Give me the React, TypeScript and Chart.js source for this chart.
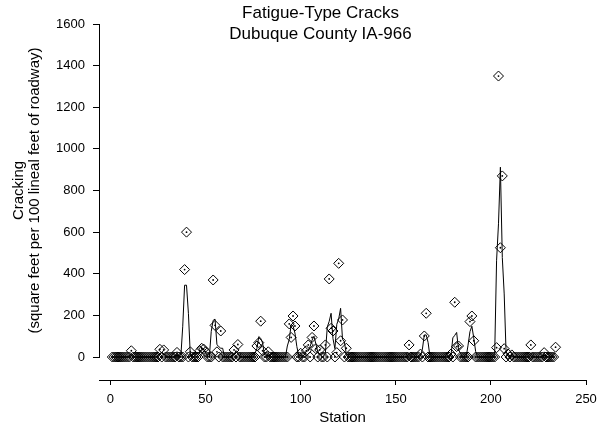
import React, { useEffect, useRef } from "react";
import { Chart, registerables } from "chart.js";

Chart.register(...registerables);

const FONT = "'Liberation Sans', Arial, Helvetica, sans-serif";

const TITLE_LINES = ["Fatigue-Type Cracks", "Dubuque County IA-966"];
const X_TITLE = "Station";
const Y_TITLE_LINES = ["Cracking", "(square feet per 100 lineal feet of roadway)"];

const X_TICKS = [0, 50, 100, 150, 200, 250];
const Y_TICKS = [0, 200, 400, 600, 800, 1000, 1200, 1400, 1600];
const X_MIN = -6;
// y value at which the detached x axis line sits (below the 0 baseline)
const X_AXIS_LINE_AT = -115;

// Stations measured: every station from FIRST_STATION to LAST_STATION.
const FIRST_STATION = 1;
const LAST_STATION = 234;

// Stations with non-zero cracking (all other stations read as 0).
const CRACK_STATIONS = [
  11, 26, 28, 35, 39, 40, 42, 47, 48, 49, 50, 54, 55, 56, 58, 65, 67, 77, 78, 79, 80, 83,
  94, 95, 96, 97, 100, 103, 104, 106, 107, 108, 110, 113, 115, 116, 117, 119, 120, 121, 122, 124,
  157, 163, 165, 166, 179, 181, 182, 183, 189, 190, 191, 203, 204, 205, 206, 207, 209, 211,
  221, 228, 234,
];
const CRACK_VALUES = [
  30, 37, 34, 22, 420, 600, 25, 30, 42, 38, 25, 370, 152, 25, 125, 34, 60, 53, 69, 172, 30, 25,
  159, 94, 197, 149, 18, 30, 58, 94, 149, 40, 34, 58, 375, 138, 125, 21, 450, 78, 178, 42,
  58, 14, 101, 210, 14, 263, 50, 53, 170, 197, 78, 45, 1350, 525, 870, 40, 15, 10,
  58, 21, 47,
];

// Moving-average trend line: stations where it rises above 0.
const TREND_STATIONS = [
  10, 11, 12, 25, 26, 27, 28, 29, 34, 35, 36, 38, 39, 40, 41, 42, 43, 46, 47, 48, 49, 50, 51,
  53, 54, 55, 56, 57, 58, 59, 64, 65, 66, 67, 68, 76, 77, 78, 79, 80, 81, 82, 83, 84,
  93, 94, 95, 96, 97, 98, 99, 100, 101, 102, 103, 104, 105, 106, 107, 108, 109, 110, 111,
  112, 113, 114, 115, 116, 117, 118, 119, 120, 121, 122, 123, 124, 125,
  156, 157, 158, 162, 163, 164, 165, 166, 167, 178, 179, 180, 181, 182, 183, 184,
  188, 189, 190, 191, 192, 202, 203, 204, 205, 206, 207, 208, 209, 210, 211, 212,
  220, 221, 222, 227, 228, 229, 233, 234,
];
const TREND_VALUES = [
  10, 10, 10, 12, 12, 24, 11, 11, 7, 7, 7, 145, 345, 345, 210, 8, 8, 10, 24, 37, 35, 21, 8,
  123, 176, 182, 59, 50, 42, 42, 11, 11, 31, 20, 20, 18, 41, 98, 90, 67, 10, 8, 8, 8,
  53, 84, 155, 150, 115, 50, 6, 6, 6, 10, 29, 29, 51, 81, 100, 63, 25, 11, 11,
  19, 19, 144, 171, 210, 88, 40, 157, 183, 234, 85, 73, 14, 14,
  19, 19, 19, 5, 5, 38, 106, 106, 70, 5, 5, 92, 104, 118, 34, 18,
  57, 122, 148, 92, 26, 15, 465, 640, 912, 478, 303, 18, 5, 8, 3, 3,
  19, 19, 19, 7, 7, 7, 16, 16,
];

function seriesFrom(stations: number[], values: number[]) {
  const lookup = new Map<number, number>();
  stations.forEach((s, i) => lookup.set(s, values[i]));
  const pts: { x: number; y: number }[] = [];
  for (let s = FIRST_STATION; s <= LAST_STATION; s++) {
    pts.push({ x: s, y: lookup.get(s) ?? 0 });
  }
  return pts;
}

export default function App() {
  const ref = useRef<HTMLCanvasElement>(null);

  useEffect(() => {
    document.body.style.margin = "0";
    const canvas = ref.current;
    if (!canvas) return;
    const points = seriesFrom(CRACK_STATIONS, CRACK_VALUES);
    const trend = seriesFrom(TREND_STATIONS, TREND_VALUES);
    const setXTicks = (s: any) => {
      s.ticks = X_TICKS.map((v) => ({ value: v }));
    };

    const chart = new Chart(canvas, {
      type: "scatter",
      data: {
        datasets: [
          {
            label: "trend",
            data: trend,
            xAxisID: "x",
            yAxisID: "y",
            showLine: true,
            borderColor: "#000",
            borderWidth: 1,
            pointRadius: 0,
            tension: 0,
            clip: false as any,
          },
          {
            label: "cracking",
            data: points,
            xAxisID: "x",
            yAxisID: "y",
            showLine: false,
            pointStyle: "rectRot",
            pointRadius: 5,
            borderColor: "#000",
            borderWidth: 1,
            backgroundColor: "rgba(0,0,0,0)",
            clip: false as any,
          },
          {
            label: "centers",
            data: points,
            xAxisID: "x",
            yAxisID: "y",
            showLine: false,
            pointStyle: "circle",
            pointRadius: 0.9,
            borderWidth: 0,
            backgroundColor: "#000",
            clip: false as any,
          },
        ],
      },
      options: {
        responsive: false,
        animation: false,
        devicePixelRatio: 1,
        layout: { padding: { left: 55, right: 15, top: 0, bottom: 0 } },
        plugins: {
          legend: { display: false },
          tooltip: { enabled: false },
          title: {
            display: true,
            text: TITLE_LINES,
            color: "#000",
            font: { family: FONT, size: 17, weight: "normal", lineHeight: "21px" },
            padding: { top: 3, bottom: -21 },
          },
        },
        scales: {
          x: {
            type: "linear",
            min: X_MIN,
            max: X_TICKS[X_TICKS.length - 1],
            afterBuildTicks: setXTicks,
            afterFit: (s: any) => {
              s.height = 81;
            },
            border: { display: false },
            grid: {
              display: true,
              drawOnChartArea: false,
              drawTicks: true,
              tickLength: 35,
              tickColor: "rgba(0,0,0,0)",
            },
            ticks: {
              color: "#000",
              font: { family: FONT, size: 13 },
              padding: 0,
              maxRotation: 0,
              autoSkip: false,
              callback: (v: any) => String(v),
            },
            title: {
              display: true,
              text: X_TITLE,
              color: "#000",
              font: { family: FONT, size: 15, lineHeight: "16px" },
              padding: { top: 0, bottom: 12 },
            },
          },
          xLine: {
            type: "linear",
            axis: "x",
            position: { y: X_AXIS_LINE_AT },
            min: X_MIN,
            max: X_TICKS[X_TICKS.length - 1],
            afterBuildTicks: setXTicks,
            border: { display: true, color: "#000", width: 1 },
            grid: {
              display: true,
              drawOnChartArea: false,
              drawTicks: true,
              tickLength: 4,
              tickColor: "#000",
              tickWidth: 1,
              color: "#000",
            },
            ticks: { display: false },
            title: { display: false },
          },
          y: {
            type: "linear",
            min: Y_TICKS[0],
            max: Y_TICKS[Y_TICKS.length - 1],
            afterBuildTicks: (s: any) => {
              s.ticks = Y_TICKS.map((v) => ({ value: v }));
            },
            afterFit: (s: any) => {
              s.width = 44;
            },
            border: { display: true, color: "#000", width: 1 },
            grid: {
              display: true,
              drawOnChartArea: false,
              drawTicks: true,
              tickLength: 6,
              tickColor: "#000",
              tickWidth: 1,
            },
            ticks: {
              color: "#000",
              font: { family: FONT, size: 13 },
              padding: 8,
              autoSkip: false,
              callback: (v: any) => String(v),
            },
            title: {
              display: true,
              text: Y_TITLE_LINES,
              color: "#000",
              font: { family: FONT, size: 15, lineHeight: "16px" },
              padding: { top: -44, bottom: 0 },
            },
          },
        },
      } as any,
    });
    return () => chart.destroy();
  }, []);

  return (
    <div style={{ width: 601, height: 438, background: "#fff" }}>
      <canvas ref={ref} width={601} height={438} style={{ display: "block", width: 601, height: 438 }} />
    </div>
  );
}
